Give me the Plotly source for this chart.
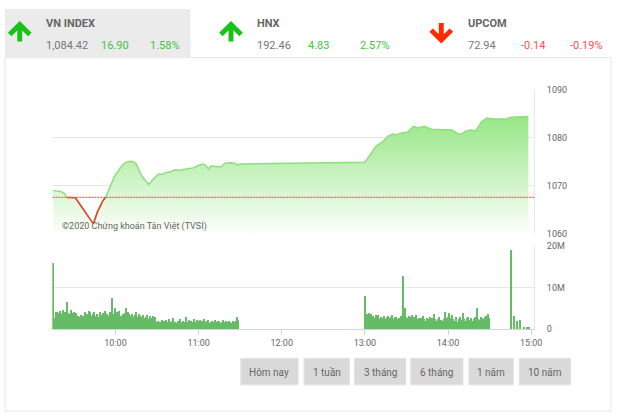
import plotly.graph_objects as go

W, H = 623, 420


def px(x):
    return x / W


def py(y):
    return 1 - y / H


def tmin(s):
    h, m = s.split(":")
    return int(h) * 60 + int(m)


# ---------------- data ----------------
price_times = ["09:15", "09:18", "09:21", "09:23", "09:25", "09:28", "09:31", "09:35", "09:38",
               "09:41", "09:44", "09:47", "09:51", "09:53", "09:56", "09:59", "10:03", "10:06",
               "10:08", "10:11", "10:13", "10:15", "10:19", "10:22", "10:24", "10:26", "10:28",
               "10:31", "10:34", "10:36", "10:40", "10:43", "10:47", "10:52", "10:56", "10:59",
               "11:03", "11:05", "11:07", "11:09", "11:13", "11:16", "11:19", "11:23", "11:26",
               "11:28", "11:30", "13:00", "13:04", "13:08", "13:13", "13:17", "13:20", "13:23",
               "13:25", "13:28", "13:31", "13:35", "13:38", "13:40", "13:43", "13:48", "13:55",
               "14:03", "14:07", "14:10", "14:13", "14:17", "14:20", "14:24", "14:28", "14:33",
               "14:38", "14:42", "14:45", "14:58"]
price_values = [1069.0, 1068.9, 1068.7, 1068.4, 1067.52, 1067.5, 1067.45, 1065.8, 1064.5,
                1063.3, 1062.0, 1064.5, 1066.9, 1067.55, 1069.6, 1071.8, 1073.5, 1074.6,
                1074.9, 1075.1, 1075.0, 1074.5, 1072.0, 1070.8, 1070.2, 1070.9, 1071.6,
                1072.4, 1072.3, 1072.7, 1072.9, 1073.3, 1073.2, 1073.5, 1073.7, 1074.1,
                1074.5, 1074.3, 1073.5, 1074.1, 1074.0, 1073.9, 1074.7, 1074.8, 1074.7,
                1074.3, 1074.5, 1074.9, 1076.5, 1078.2, 1079.2, 1080.4, 1080.8, 1080.6,
                1080.9, 1081.0, 1081.2, 1082.4, 1082.1, 1082.2, 1082.4, 1081.8, 1081.7,
                1081.6, 1080.8, 1080.8, 1081.4, 1081.6, 1081.4, 1083.3, 1084.1, 1083.9,
                1083.9, 1083.9, 1084.3, 1084.42]
ref_price = 1067.52

vol_am_start = "09:15"
vol_am = [16.0, 2.6, 4.0, 4.0, 3.8, 4.3, 3.5, 4.5, 3.6, 4.1, 6.4, 3.9, 3.5, 4.6, 3.8, 4.1, 3.6, 3.9,
          3.2, 3.0, 3.4, 2.9, 3.1, 4.2, 3.3, 3.6, 4.4, 4.0, 3.1, 3.5, 4.1, 3.2, 3.6, 3.0, 4.2, 3.4,
          3.8, 3.1, 4.4, 3.5, 3.2, 4.0, 3.3, 7.4, 3.6, 5.0, 4.2, 3.4, 4.3, 3.2, 2.8, 3.6, 3.9, 5.1,
          4.0, 3.5, 3.1, 3.7, 2.9, 3.3, 4.1, 3.0, 3.6, 3.2, 2.8, 3.4, 2.6, 3.0, 3.3, 2.5, 3.1, 2.7,
          3.2, 2.4, 2.8, 1.7, 2.0, 1.8, 1.6, 2.2, 1.9, 1.5, 2.1, 1.7, 2.3, 1.6, 1.9, 2.6, 1.8, 1.5,
          2.0, 1.7, 2.4, 1.6, 2.0, 1.8, 2.9, 1.7, 2.2, 1.9, 2.0, 1.6, 2.4, 1.8, 2.1, 1.9, 2.2, 1.7,
          2.0, 2.3, 1.6, 1.9, 2.1, 1.5, 1.8, 2.0, 1.7, 2.2, 1.6, 1.9, 2.0, 1.5, 1.8, 2.1, 1.7, 1.9,
          1.6, 2.0, 1.8, 1.5, 1.9, 1.7, 2.0, 2.8, 2.2]
vol_pm_start = "13:00"
vol_pm = [8.0, 2.4, 3.5, 3.9, 2.8, 3.6, 3.2, 2.6, 3.4, 2.9, 3.3, 2.5, 3.0, 2.7, 3.2, 2.4, 2.9, 3.1,
          2.6, 2.8, 3.3, 2.5, 2.9, 3.0, 2.3, 2.7, 3.1, 2.5, 12.8, 5.0, 3.0, 2.6, 3.2, 2.8, 3.4, 2.5,
          2.9, 3.3, 2.4, 2.7, 2.2, 2.6, 3.1, 2.3, 2.0, 2.7, 2.4, 2.9, 2.1, 2.6, 3.7, 2.3, 2.0, 2.5,
          2.8, 2.2, 1.9, 2.4, 4.0, 2.6, 3.0, 3.8, 2.7, 3.4, 2.3, 2.0, 2.8, 1.8, 2.4, 2.9, 2.2, 3.8,
          2.5, 2.0, 2.7, 3.0, 2.2, 2.6, 1.9, 2.4, 2.8, 5.0, 2.5, 2.1, 2.9, 2.6, 2.3, 2.8, 3.2, 3.6,
          2.7]
vol_atc_times = ["14:46", "14:48", "14:50", "14:52", "14:55", "14:57", "14:59"]
vol_atc = [19.0, 3.1, 2.0, 2.2, 0.4, 0.3, 0.5]

x_ticks = ["10:00", "11:00", "12:00", "13:00", "14:00", "15:00"]
price_ticks = [1060, 1070, 1080, 1090]
vol_tickvals = [0, 10, 20]
vol_ticktext = ["0", "10M", "20M"]

header = [
    ("VN INDEX", "1,084.42", "16.90", "1.58%", "up"),
    ("HNX", "192.46", "4.83", "2.57%", "up"),
    ("UPCOM", "72.94", "-0.14", "-0.19%", "down"),
]
buttons = ["Hôm nay", "1 tuần", "3 tháng", "6 tháng", "1 năm", "10 năm"]
watermark = "©2020 Chứng khoán Tân Việt (TVSI)"

# ---------------- derived ----------------
px_x = [tmin(t) for t in price_times]
red_y = [v if v <= ref_price + 0.05 else None for v in price_values]

vol_x, vol_y = [], []
s = tmin(vol_am_start)
for i, v in enumerate(vol_am):
    vol_x.append(s + i)
    vol_y.append(v)
s = tmin(vol_pm_start)
for i, v in enumerate(vol_pm):
    vol_x.append(s + i)
    vol_y.append(v)
for t, v in zip(vol_atc_times, vol_atc):
    vol_x.append(tmin(t))
    vol_y.append(v)

FONT = "Roboto, Arial, sans-serif"
GREEN_TXT = "#3cc63c"
RED_TXT = "#ff4f4f"
GRAY_TXT = "#777777"

fig = go.Figure()

fig.add_trace(go.Scatter(
    x=px_x, y=price_values, mode="lines",
    line=dict(color="#8ddf7b", width=1.5),
    fill="tozeroy",
    fillgradient=dict(type="vertical",
                      colorscale=[[0, "rgba(255,255,255,0.9)"], [1, "rgba(140,228,120,0.92)"]],
                      start=1060, stop=1085),
    hoverinfo="skip", showlegend=False, xaxis="x", yaxis="y"))

fig.add_trace(go.Scatter(
    x=px_x, y=red_y, mode="lines", connectgaps=False,
    line=dict(color="#f0402f", width=1.6),
    hoverinfo="skip", showlegend=False, xaxis="x", yaxis="y"))

fig.add_trace(go.Bar(
    x=vol_x, y=vol_y, width=0.72,
    marker=dict(color="#66bb66", line=dict(width=0)),
    hoverinfo="skip", showlegend=False, xaxis="x2", yaxis="y2"))

xr = [554.4, 902.1]
xdom = [px(53), px(541)]

fig.update_layout(
    width=W, height=H,
    margin=dict(l=0, r=0, t=0, b=0),
    paper_bgcolor="white", plot_bgcolor="rgba(0,0,0,0)",
    font=dict(family=FONT, color="#666666", size=9),
    bargap=0,
    xaxis=dict(domain=xdom, range=xr, anchor="y", showticklabels=False, showgrid=False,
               zeroline=False, showline=False, ticks="", fixedrange=True),
    yaxis=dict(domain=[py(234), py(87)], range=[1060, 1090], side="right", anchor="x",
               tickvals=price_ticks, ticktext=[str(v) for v in price_ticks],
               showgrid=True, gridcolor="#e6e6e6", gridwidth=1, zeroline=False,
               showline=True, linecolor="#e4e8ee", linewidth=1, ticks="",
               ticklabelstandoff=10, tickfont=dict(size=9, color="#666666")),
    xaxis2=dict(domain=xdom, range=xr, anchor="y2",
                tickvals=[tmin(t) for t in x_ticks], ticktext=x_ticks,
                ticks="outside", ticklen=5, tickcolor="#ccd6eb", showline=True,
                linecolor="#ccd6eb", linewidth=1, showgrid=False, zeroline=False,
                tickfont=dict(size=9, color="#666666")),
    yaxis2=dict(domain=[py(332), py(247)], range=[0, 20], side="right", anchor="x2",
                tickvals=vol_tickvals, ticktext=vol_ticktext,
                showgrid=True, gridcolor="#e6e6e6", zeroline=False,
                showline=True, linecolor="#e4e8ee", ticks="",
                ticklabelstandoff=10, tickfont=dict(size=9, color="#666666")),
)

shapes = []
annotations = []

# container & header tab
shapes.append(dict(type="rect", xref="paper", yref="paper", x0=px(5), x1=px(619), y0=py(416), y1=py(54),
                   line=dict(color="#e6e6e6", width=1), fillcolor="rgba(0,0,0,0)", layer="below"))
shapes.append(dict(type="rect", xref="paper", yref="paper", x0=px(5), x1=px(193), y0=py(54), y1=py(4),
                   line=dict(width=0), fillcolor="#ebebeb", layer="below"))

# reference dotted line
shapes.append(dict(type="line", xref="x", yref="y", x0=xr[0], x1=xr[1], y0=ref_price, y1=ref_price,
                   line=dict(color="#ff5c5c", width=1.2, dash="2px,1px")))


def arrow(cx, cy, up, color):
    s = 1 if up else -1
    pts = [(0, -11), (12, 1), (8.5, 4.5), (2.5, -1.5), (2.5, 10), (-2.5, 10), (-2.5, -1.5),
           (-8.5, 4.5), (-12, 1)]
    path = ""
    for i, (dx, dy) in enumerate(pts):
        X = px(cx + dx)
        Y = py(cy + s * dy)
        path += ("M" if i == 0 else "L") + f"{X},{Y} "
    path += "Z"
    return dict(type="path", xref="paper", yref="paper", path=path,
                fillcolor=color, line=dict(width=0))


header_pos = [  # (arrow cx, text x, change x, pct right x)
    (20, 45, 100, 184),
    (234, 258, 310, 397),
    (447, 472, 526, 613),
]
for (name, val, chg, pct, d), (ax_, tx, cx_, rx) in zip(header, header_pos):
    up = d == "up"
    col = GREEN_TXT if up else RED_TXT
    shapes.append(arrow(ax_, 27.5 if up else 28.5, up, "#19c219" if up else "#ff2a00"))
    annotations.append(dict(text=f"<b>{name}</b>", x=px(tx), y=py(19), xref="paper", yref="paper",
                            xanchor="left", yanchor="middle", showarrow=False,
                            font=dict(size=11, color="#666666", family=FONT)))
    annotations.append(dict(text=val, x=px(tx), y=py(42), xref="paper", yref="paper",
                            xanchor="left", yanchor="middle", showarrow=False,
                            font=dict(size=11, color=GRAY_TXT, family=FONT)))
    annotations.append(dict(text=chg, x=px(cx_), y=py(42), xref="paper", yref="paper",
                            xanchor="left", yanchor="middle", showarrow=False,
                            font=dict(size=11, color=col, family=FONT)))
    annotations.append(dict(text=pct, x=px(rx), y=py(42), xref="paper", yref="paper",
                            xanchor="right", yanchor="middle", showarrow=False,
                            font=dict(size=11, color=col, family=FONT)))

# watermark
annotations.append(dict(text=watermark, x=px(61), y=py(227), xref="paper", yref="paper",
                        xanchor="left", yanchor="middle", showarrow=False,
                        font=dict(size=9, color="#666666", family=FONT)))

# buttons
btn_x = [(244, 302), (308, 354), (359, 411), (416, 469), (475, 520), (526, 578)]
for label, (x0, x1) in zip(buttons, btn_x):
    shapes.append(dict(type="rect", xref="paper", yref="paper", x0=px(x0), x1=px(x1),
                       y0=py(389), y1=py(362), fillcolor="#d9d9d9",
                       line=dict(color="#e2e2e2", width=1)))
    annotations.append(dict(text=label, x=px((x0 + x1) / 2), y=py(376), xref="paper", yref="paper",
                            xanchor="center", yanchor="middle", showarrow=False,
                            font=dict(size=10, color="#666666", family=FONT)))

fig.update_layout(shapes=shapes, annotations=annotations)
fig.write_html("out.html")
